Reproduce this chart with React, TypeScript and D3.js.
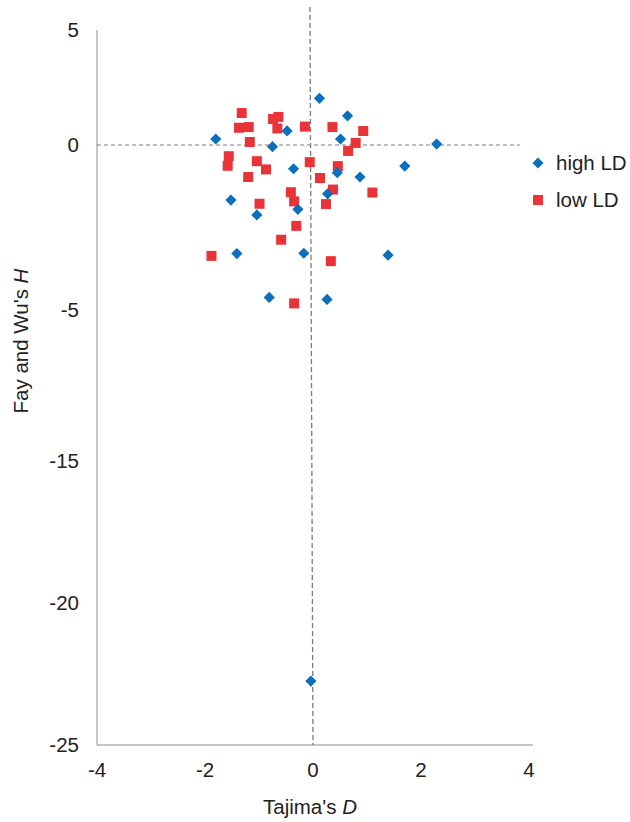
import React from 'react';
import * as d3 from 'd3';

// Tajima's D (x) vs Fay and Wu's H (y)
const highLD: [number, number][] = [
  [0.12, 2.03], [0.64, 1.27], [-1.8, 0.26], [-0.48, 0.61], [0.51, 0.26],
  [-0.75, -0.05], [2.29, 0.04], [-0.36, -0.72], [1.7, -0.64], [0.45, -0.84],
  [0.87, -0.97], [0.27, -1.48], [-1.52, -1.67], [-1.04, -2.12], [-0.28, -1.95],
  [-1.41, -3.29], [-0.17, -3.28], [1.39, -3.34], [-0.81, -4.62], [0.26, -4.68],
  [-0.04, -22.75],
];

const lowLD: [number, number][] = [
  [-1.32, 1.39], [-1.37, 0.75], [-1.19, 0.78], [-0.74, 1.13], [-0.64, 1.22],
  [-0.66, 0.72], [-0.15, 0.8], [0.36, 0.78], [0.93, 0.61], [-1.17, 0.13],
  [0.79, 0.09], [0.65, -0.18], [-1.56, -0.34], [-1.58, -0.63], [-1.04, -0.49],
  [-0.87, -0.74], [-0.06, -0.52], [0.46, -0.64], [-1.2, -0.97], [0.13, -1.0],
  [0.37, -1.35], [1.1, -1.44], [-0.41, -1.43], [-0.35, -1.71], [-0.99, -1.78],
  [0.24, -1.79], [-0.31, -2.45], [-0.59, -2.87], [-1.88, -3.36], [0.33, -3.52],
  [-0.35, -4.8],
];

const xTicks = [-4, -2, 0, 2, 4];
const yTicks = [5, 0, -5, -15, -20, -25];

// reference lines (dashed)
const vLine: [number, number][] = [[-0.056, 6.0], [0, -25]];
const hLine: [number, number][] = [[-4, 0], [3.83, 0]];

const BLUE = '#0a6fbd';
const RED = '#ea3338';
const FONT = '"Liberation Sans", Arial, Helvetica, sans-serif';
const FS = 20.5;

export default function App() {
  const x = d3.scaleLinear().domain([-4, 4]).range([97, 529]);
  // the source figure's y axis is not evenly spaced between its labels
  const y = d3
    .scaleLinear()
    .domain([5, 0, -5, -15, -20, -25])
    .range([30, 145, 310, 461, 603, 745]);

  const line = d3
    .line<[number, number]>()
    .x((d) => x(d[0]))
    .y((d) => y(d[1]));

  const diamond = d3.symbol().type(d3.symbolDiamond2).size(80)();
  const square = d3.symbol().type(d3.symbolSquare).size(100)();

  return (
    <div style={{ position: 'absolute', left: 0, top: 0 }}>
      <svg width={630} height={822} style={{ display: 'block', fontFamily: FONT }}>
        <rect width={630} height={822} fill="#fff" />

        {/* axes */}
        <line x1={x(-4)} x2={x(-4)} y1={y(5)} y2={y(-25)} stroke="#8c8c8c" strokeWidth={1} />
        <line x1={x(-4)} x2={533} y1={y(-25)} y2={y(-25)} stroke="#8c8c8c" strokeWidth={1} />

        {/* dashed reference lines */}
        <path d={line(hLine) ?? ''} stroke="#7a7a7a" strokeWidth={1} strokeDasharray="4,3" fill="none" />
        <path d={line(vLine) ?? ''} stroke="#7a7a7a" strokeWidth={1.3} strokeDasharray="5,3" fill="none" />

        {/* tick labels */}
        {yTicks.map((t) => (
          <text key={`y${t}`} x={79} y={y(t)} dy="0.36em" textAnchor="end" fontSize={FS} fill="#222">
            {t}
          </text>
        ))}
        {xTicks.map((t) => (
          <text key={`x${t}`} x={x(t)} y={770} dy="0.36em" textAnchor="middle" fontSize={FS} fill="#222">
            {t}
          </text>
        ))}

        {/* axis titles */}
        <text x={310} y={814} textAnchor="middle" fontSize={FS} fill="#222">
          Tajima's <tspan fontStyle="italic">D</tspan>
        </text>
        <text
          transform={`translate(28,341) rotate(-90)`}
          textAnchor="middle"
          fontSize={FS}
          fill="#222"
        >
          Fay and Wu's <tspan fontStyle="italic">H</tspan>
        </text>

        {/* points */}
        {lowLD.map((d, i) => (
          <path key={`l${i}`} d={square ?? ''} transform={`translate(${x(d[0])},${y(d[1])})`} fill={RED} />
        ))}
        {highLD.map((d, i) => (
          <path key={`h${i}`} d={diamond ?? ''} transform={`translate(${x(d[0])},${y(d[1])})`} fill={BLUE} />
        ))}

        {/* legend */}
        <path d={diamond ?? ''} transform="translate(538,163)" fill={BLUE} />
        <text x={556} y={163} dy="0.36em" fontSize={FS} fill="#222">high LD</text>
        <path d={square ?? ''} transform="translate(538,200)" fill={RED} />
        <text x={556} y={200} dy="0.36em" fontSize={FS} fill="#222">low LD</text>
      </svg>
    </div>
  );
}
